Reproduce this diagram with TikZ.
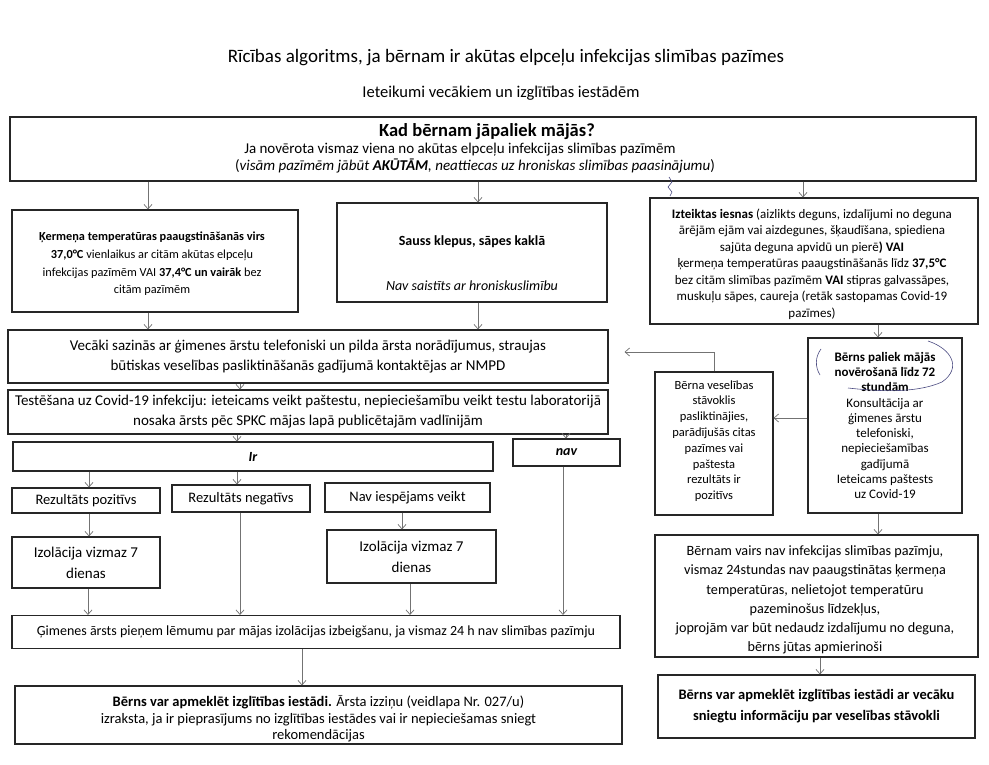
\documentclass[tikz,border=0pt]{standalone}
\usepackage{fontspec}
\setmainfont{Carlito}
\usetikzlibrary{arrows.meta}
\begin{document}
\begin{tikzpicture}[x=1pt,y=-1pt,
  box/.style={draw=black!85, line width=1.1pt, fill=white, inner sep=0pt, align=center},
  arr/.style={draw=black!55, line width=0.7pt, -{Straight Barb[length=4.5pt,width=8pt]}},
  txt/.style={inner sep=0pt, align=center},
  fb/.style={font=\fontsize{15}{20}\selectfont},
  fs/.style={font=\fontsize{14.5}{20}\selectfont},
  hand/.style={draw=blue!30!black!70, line width=0.6pt}
]
\useasboundingbox[fill=white] (0,0) rectangle (989,765);

% titles
\node[txt, font=\fontsize{19}{20}\selectfont] (title) at (506,58) {Rīcības algoritms, ja bērnam ir akūtas elpceļu infekcijas slimības pazīmes};
\node[txt, font=\fontsize{16.5}{18}\selectfont] (subtitle) at (501,93) {Ieteikumi vecākiem un izglītības iestādēm};

% main box
\node[box, minimum width=966pt, minimum height=64pt] (main) at (493,149) {};
\node[txt, font=\fontsize{18.5}{20}\selectfont\bfseries] (mq) at (487,132) {Kad bērnam jāpaliek mājās?};
\node[txt, font=\fontsize{15}{16}\selectfont] (m1) at (460,150) {Ja novērota vismaz viena no akūtas elpceļu infekcijas slimības pazīmēm};
\node[txt, font=\fontsize{15}{16}\selectfont] (m2) at (475,166) {(\textit{visām pazīmēm jābūt \textbf{AKŪTĀM}, neattiecas uz hroniskas slimības paasinājumu})};

% row 1
\node[box, minimum width=286pt, minimum height=102pt] (box1) at (155,261) {};
\node[txt, font=\fontsize{12.3}{17.7}\selectfont] (box1t) at (152,264) {\textbf{Ķermeņa temperatūras paaugstināšanās virs}\\ \textbf{37,0°C} vienlaikus ar citām akūtas elpceļu\\ infekcijas pazīmēm VAI \textbf{37,4°C un vairāk} bez\\ citām pazīmēm};
\node[box, minimum width=270pt, minimum height=99pt] (box2) at (472,252.5) {};
\node[txt, font=\fontsize{14}{16}\selectfont\bfseries] (b2a) at (472,242) {Sauss klepus, sāpes kaklā};
\node[txt, font=\fontsize{14}{16}\selectfont\itshape] (b2b) at (472,286) {Nav saistīts ar hroniskuslimību};
\node[box, minimum width=328pt, minimum height=126pt] (box3) at (814,261) {};
\node[txt, font=\fontsize{13}{16.5}\selectfont] (box3t) at (812,264) {\textbf{Izteiktas iesnas} (aizlikts deguns, izdalījumi no deguna\\ ārējām ejām vai aizdegunes, šķaudīšana, spiediena\\ sajūta deguna apvidū un pierē\textbf{) VAI}\\ ķermeņa temperatūras paaugstināšanās līdz \textbf{37,5°C}\\ bez citām slimības pazīmēm \textbf{VAI} stipras galvassāpes,\\ muskuļu sāpes, caureja (retāk sastopamas Covid-19\\ pazīmes)};

% left column
\node[box, fb, minimum width=600pt, minimum height=53pt] (box4) at (308,356.5) {Vecāki sazinās ar ģimenes ārstu telefoniski un pilda ārsta norādījumus, straujas\\ būtiskas veselības pasliktināšanās gadījumā kontaktējas ar NMPD};
\node[box, fb, minimum width=600pt, minimum height=44pt] (box5) at (308,412) {Testēšana uz Covid-19 infekciju: ieteicams veikt paštestu, nepieciešamību veikt testu laboratorijā\\ nosaka ārsts pēc SPKC mājas lapā publicētajām vadlīnijām};
\node[box, minimum width=480pt, minimum height=29pt, font=\fontsize{14}{16}\selectfont\bfseries\itshape] (Ir) at (253,456.5) {Ir};
\node[box, minimum width=107pt, minimum height=27pt, font=\fontsize{14}{16}\selectfont\bfseries\itshape] (nav) at (566.5,452.5) {nav};

\node[box, fs, minimum width=148pt, minimum height=25pt] (RP) at (86,500.5) {Rezultāts pozitīvs};
\node[box, fs, minimum width=138pt, minimum height=27pt] (RN) at (241,498.5) {Rezultāts negatīvs};
\node[box, fs, minimum width=165pt, minimum height=29pt] (NI) at (407.5,497.5) {Nav iespējams veikt};
\node[box, minimum width=148pt, minimum height=51pt, font=\fontsize{15}{21}\selectfont] (Iz1) at (86,562.5) {Izolācija vizmaz 7\\ dienas};
\node[box, minimum width=169pt, minimum height=53pt, font=\fontsize{15}{21}\selectfont] (Iz2) at (411.5,556.5) {Izolācija vizmaz 7\\ dienas};

\node[box, minimum width=608pt, minimum height=33pt, font=\fontsize{14}{18}\selectfont] (Gim) at (316,632) {Ģimenes ārsts pieņem lēmumu par mājas izolācijas izbeigšanu, ja vismaz 24 h nav slimības pazīmju};
\node[box, minimum width=607pt, minimum height=58pt] (FL) at (318.5,715) {};
\node[txt, font=\fontsize{14.5}{16.5}\selectfont] (FLt) at (318.5,719) {\textbf{Bērns var apmeklēt izglītības iestādi.} Ārsta izziņu (veidlapa Nr. 027/u)\\ izraksta, ja ir pieprasījums no izglītības iestādes vai ir nepieciešamas sniegt\\ rekomendācijas};

% right column
\node[box, minimum width=154pt, minimum height=175pt, font=\fontsize{13}{15.3}\selectfont] (BP) at (885,425.5) {\textbf{Bērns paliek mājās}\\ \textbf{novērošanā līdz 72}\\ \textbf{stundām}\\ Konsultācija ar\\ ģimenes ārstu\\ telefoniski,\\ nepieciešamības\\ gadījumā\\ Ieteicams paštests\\ uz Covid-19};
\node[box, minimum width=118pt, minimum height=143pt] (BV) at (714,443.5) {};
\node[txt, font=\fontsize{12.5}{15.8}\selectfont] (BVt) at (714,441) {Bērna veselības\\ stāvoklis\\ pasliktinājies,\\ parādījušās citas\\ pazīmes vai\\ paštesta\\ rezultāts ir\\ pozitīvs};
\node[box, minimum width=323pt, minimum height=122pt] (BVa) at (816.5,596) {};
\node[txt, font=\fontsize{14.2}{19.2}\selectfont] (BVat) at (815,600) {Bērnam vairs nav infekcijas slimības pazīmju,\\ vismaz 24stundas nav paaugstinātas ķermeņa\\ temperatūras, nelietojot temperatūru\\ pazeminošus līdzekļus,\\ joprojām var būt nedaudz izdalījumu no deguna,\\ bērns jūtas apmierinoši};
\node[box, minimum width=317pt, minimum height=63pt, font=\fontsize{14.5}{21}\selectfont\bfseries] (FR) at (816.5,706.5) {Bērns var apmeklēt izglītības iestādi ar vecāku\\ sniegtu informāciju par veselības stāvokli};

% connectors
\draw[arr] (main.south -| 148,0) -- (box1.north -| 148,0);
\draw[arr] (main.south -| 478,0) -- (box2.north -| 478,0);
\draw[arr] (main.south -| 803,0) -- (box3.north -| 803,0);
\draw[arr] (box1.south -| 148,0) -- (box4.north -| 148,0);
\draw[arr] (box2.south -| 478,0) -- (box4.north -| 478,0);
\draw[arr] (box3.south -| 878,0) -- (BP.north -| 878,0);
\draw[arr] (box4.south -| 240,0) -- (box5.north -| 240,0);
\draw[arr] (box5.south -| 237,0) -- (Ir.north -| 237,0);
\draw[arr] (box5.south -| 566,0) -- (nav.north -| 566,0);
\draw[arr] (Ir.south -| 89,0) -- (RP.north -| 89,0);
\draw[arr] (Ir.south -| 237,0) -- (RN.north -| 237,0);
\draw[arr] (RP.south -| 89,0) -- (Iz1.north -| 89,0);
\draw[arr] (NI.south -| 402,0) -- (Iz2.north -| 402,0);
\draw[arr] (Iz1.south -| 88,0) -- (Gim.north -| 88,0);
\draw[arr] (RN.south -| 240,0) -- (Gim.north -| 240,0);
\draw[arr] (Iz2.south -| 410,0) -- (Gim.north -| 410,0);
\draw[arr] (nav.south -| 563,0) -- (Gim.north -| 563,0);
\draw[arr] (Gim.south -| 302,0) -- (FL.north -| 302,0);
\draw[arr] (BP.west |- 0,418) -- (BV.east |- 0,418);
\draw[arr, shorten >=16pt] (BV.north) |- (box4.east |- 0,352);
\draw[arr] (BP.south -| 878,0) -- (BVa.north -| 878,0);
\draw[arr] (BVa.south -| 820,0) -- (FR.north -| 820,0);

% hand-drawn marks
\draw[hand] (669,177) -- (672,182) -- (668,187) -- (672,192) -- (670,196);
\draw[hand] (821,349) .. controls (815,357) and (815,367) .. (820,375);
\draw[hand] (928,341) .. controls (952,349) and (962,368) .. (942,382) .. controls (915,394) and (875,391) .. (848,388);
\end{tikzpicture}
\end{document}
